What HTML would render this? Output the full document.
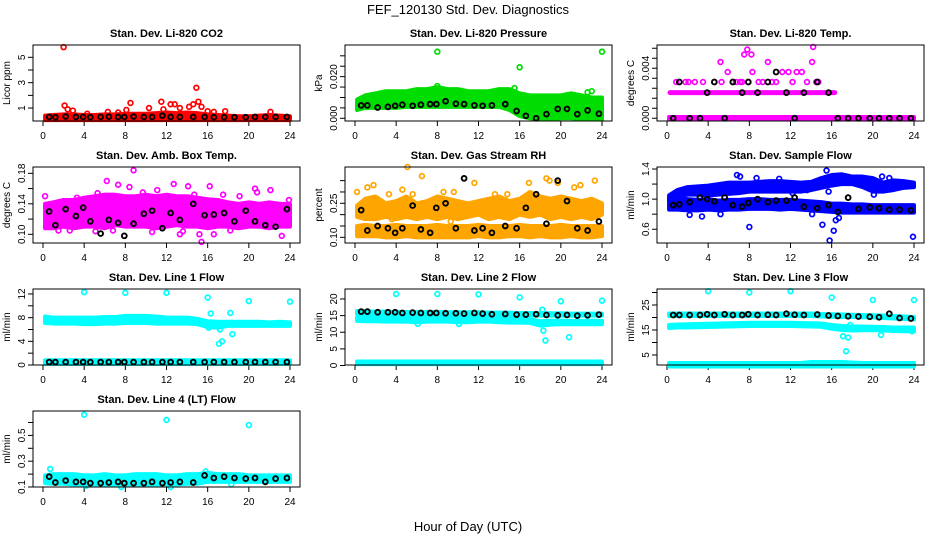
<!DOCTYPE html>
<html><head><meta charset="utf-8"><style>
html,body{margin:0;padding:0;background:#fff;}
svg{display:block;font-family:"Liberation Sans",sans-serif;}
</style></head><body>
<svg id="chart" width="936" height="540" viewBox="0 0 936 540" xmlns="http://www.w3.org/2000/svg">
<rect width="936" height="540" fill="#fff"/>
<text x="468" y="14" text-anchor="middle" font-size="13">FEF_120130  Std. Dev. Diagnostics</text>
<text x="468" y="531" text-anchor="middle" font-size="13">Hour of Day (UTC)</text>
</svg>
<script>
// ---------- data ----------
const HOURS = [0,1,2,3,4,5,6,7,8,9,10,11,12,13,14,15,16,17,18,19,20,21,22,23,24];
const X_TICKS = [0,4,8,12,16,20,24];
const BLK_X = [0.6,1.2,2.2,3.2,3.9,4.6,5.6,6.4,7.3,7.9,8.8,9.8,10.6,11.6,12.4,13.3,14.6,15.7,16.6,17.6,18.6,19.7,20.6,21.6,22.6,23.7];

// CO2
const co2Lo = [0.05,0.05,0.05,0.05,0.05,0.05,0.05,0.05,0.05,0.05,0.05,0.05,0.05,0.05,0.05,0.05,0.05,0.05,0.05,0.05,0.05,0.05,0.05,0.05,0.05];
const co2Hi = [0.4,0.45,0.5,0.5,0.45,0.45,0.5,0.5,0.55,0.55,0.55,0.6,0.65,0.6,0.65,0.6,0.5,0.45,0.4,0.35,0.35,0.4,0.45,0.4,0.35];
const co2PtX = [2,2.1,2.4,2.9,4.3,6.3,7.3,8.1,8.5,10.3,11.5,11.7,12.4,12.8,13.3,14.2,14.6,14.9,15.1,15.4,16,16.6,17.7,22.1];
const co2PtY = [5.8,1.2,0.9,0.8,0.55,0.7,0.65,0.85,1.4,1.0,1.5,0.9,1.3,1.3,1.0,1.1,1.3,2.6,1.5,1.1,0.75,0.7,0.75,0.7];
const co2Blk = [0.3,0.28,0.33,0.3,0.3,0.28,0.3,0.32,0.3,0.3,0.33,0.3,0.3,0.4,0.3,0.3,0.3,0.3,0.28,0.28,0.28,0.28,0.3,0.3,0.3,0.3];
const co2Ticks = [1,2,3,4,5], co2Labels = ["1","","3","","5"];

// Pressure
const prLo = [0.004,0.005,0.005,0.005,0.005,0.0055,0.0055,0.0055,0.0055,0.0055,0.0055,0.0055,0.0055,0.0055,0.0055,0.004,0.001,0.0,-0.0005,-0.0005,0.0,0.0,-0.0005,-0.0005,-0.0005];
const prHi = [0.009,0.011,0.012,0.013,0.013,0.013,0.014,0.014,0.015,0.014,0.014,0.013,0.013,0.013,0.014,0.014,0.012,0.011,0.011,0.011,0.011,0.012,0.011,0.010,0.010];
const prPtX = [8,24,16,8,15.5,17.1,18.3,21.2,22.6,23];
const prPtY = [0.032,0.032,0.0245,0.0155,0.0145,0.0045,0.0015,0.0015,0.0125,0.013];
const prBlk = [0.0062,0.0062,0.0052,0.0055,0.006,0.0065,0.006,0.0065,0.0068,0.0068,0.0082,0.007,0.0068,0.0062,0.006,0.0062,0.0068,0.0035,0.0012,0.0,0.002,0.0045,0.0045,0.002,0.0038,0.0022];
const prTicks = [0,0.005,0.01,0.015,0.02,0.025,0.03], prLabels = ["0.000","","","","0.020","",""];

// Li-820 Temp
const tpLo = [-0.0001,-0.0001,-0.0001,-0.0001,-0.0001,-0.0001,-0.0001,-0.0001,-0.0001,-0.0001,-0.0001,-0.0001,-0.0001,-0.0001,-0.0001,-0.0001,-0.0001,-0.0001,-0.0001,-0.0001,-0.0001,-0.0001,-0.0001,-0.0001,-0.0001];
const tpHi = [0.0001,0.0001,0.0001,0.0001,0.0001,0.0001,0.0001,0.0001,0.0001,0.0001,0.0001,0.0001,0.0001,0.0001,0.0001,0.0001,0.0001,0.0001,0.0001,0.0001,0.0001,0.0001,0.0001,0.0001,0.0001];
const tpLevelY = [0.00205];
const tpLevelX0 = [0.3];
const tpLevelX1 = [16.3];
const tpPtX = [0.9,1.8,2.1,2.7,3.5,4.6,5.2,5.3,5.9,6.4,7.1,7.3,7.5,7.8,8.2,8.3,8.9,9.3,9.8,10.6,11.2,11.8,12.6,13.1,13.6,14.1,14.2,14.5,14.7,7.9,10.2,12.2,6.7];
const tpPtY = [0.0029,0.0029,0.0029,0.0029,0.0029,0.0029,0.0045,0.0029,0.0037,0.0029,0.0029,0.0029,0.0051,0.0055,0.0051,0.0037,0.0029,0.0029,0.0045,0.0029,0.0037,0.0037,0.0037,0.0037,0.0029,0.0045,0.0057,0.0029,0.0029,0.0029,0.0029,0.0029,0.0029];
const tpBlk = [0,0.0029,0,0,0.00205,0.0029,0,0.0029,0.00205,0.0029,0.00205,0.0029,0.0037,0.00205,0,0.00205,0.0029,0.00205,0,0,0,0,0,0,0,0];
const tpTicks = [0,0.0008,0.0016,0.0024,0.0032,0.004,0.0048,0.0056], tpLabels = ["0.000","","","","","0.004","",""];

// Amb box temp
const abLo = [0.108,0.108,0.11,0.108,0.11,0.11,0.108,0.112,0.11,0.11,0.11,0.108,0.11,0.112,0.11,0.11,0.108,0.11,0.11,0.108,0.11,0.11,0.108,0.11,0.11];
const abHi = [0.14,0.142,0.145,0.145,0.148,0.15,0.152,0.152,0.15,0.15,0.152,0.15,0.152,0.15,0.15,0.148,0.146,0.145,0.142,0.14,0.142,0.14,0.142,0.14,0.14];
const abPtX = [0.2,0.3,1.5,2.6,3.3,5.1,6.2,6.8,7.3,8.4,8.8,9.7,11.1,12.7,13.3,14.1,14.7,15.2,15.4,16.2,16.6,17.5,19.1,20.6,20.8,22.1,23.2,23.9,5.3,10.6,13.6,18.2];
const abPtY = [0.15,0.11,0.105,0.105,0.148,0.104,0.17,0.105,0.165,0.162,0.184,0.155,0.158,0.166,0.1,0.163,0.152,0.1,0.09,0.163,0.1,0.152,0.15,0.16,0.155,0.158,0.098,0.145,0.154,0.103,0.104,0.105];
const abBlk = [0.13,0.112,0.133,0.124,0.135,0.117,0.101,0.119,0.115,0.098,0.114,0.127,0.131,0.108,0.128,0.119,0.14,0.125,0.126,0.128,0.117,0.131,0.117,0.112,0.11,0.133];
const abTicks = [0.10,0.12,0.14,0.16,0.18], abLabels = ["0.10","","0.14","","0.18"];

// Gas stream RH
const rhLo = [0.105,0.105,0.105,0.1,0.1,0.105,0.1,0.1,0.1,0.1,0.1,0.1,0.105,0.1,0.1,0.105,0.105,0.1,0.105,0.1,0.1,0.105,0.1,0.1,0.105];
const rhHi = [0.15,0.155,0.15,0.15,0.155,0.15,0.15,0.15,0.155,0.15,0.15,0.15,0.155,0.15,0.15,0.15,0.155,0.15,0.15,0.15,0.155,0.15,0.15,0.15,0.15];
const rh2Lo = [0.19,0.18,0.18,0.19,0.18,0.19,0.18,0.19,0.18,0.19,0.18,0.19,0.2,0.18,0.19,0.18,0.2,0.19,0.2,0.18,0.19,0.18,0.19,0.18,0.2];
const rh2Hi = [0.24,0.27,0.28,0.25,0.26,0.28,0.25,0.26,0.28,0.27,0.26,0.25,0.26,0.27,0.28,0.26,0.27,0.3,0.28,0.27,0.28,0.27,0.26,0.27,0.25];
const rhPtX = [0.2,1.2,1.8,3.3,4.6,5.1,5.6,6.5,7.2,7.8,8.6,9.6,10.4,11.6,12.6,13.6,14.8,15.6,16.9,18.6,18.9,19.7,21.3,21.9,22.4,23.3,23.9,3.6,9.3,12.9];
const rhPtY = [0.3,0.32,0.33,0.29,0.31,0.41,0.29,0.37,0.23,0.13,0.3,0.3,0.14,0.34,0.21,0.29,0.29,0.26,0.34,0.36,0.35,0.34,0.32,0.33,0.24,0.35,0.24,0.18,0.17,0.13];
const rhBlk = [0.22,0.13,0.15,0.14,0.12,0.14,0.24,0.135,0.12,0.23,0.25,0.14,0.36,0.13,0.14,0.12,0.15,0.14,0.23,0.29,0.16,0.35,0.26,0.14,0.13,0.17];
const rhTicks = [0.10,0.15,0.20,0.25,0.30,0.35], rhLabels = ["0.10","","","0.25","",""];

// Sample flow
const sfLo = [0.86,0.86,0.85,0.85,0.86,0.85,0.86,0.86,0.87,0.87,0.87,0.86,0.87,0.86,0.85,0.84,0.83,0.82,0.82,0.82,0.82,0.82,0.82,0.82,0.82];
const sfHi = [1.0,1.02,1.0,0.99,1.0,0.98,0.99,0.99,1.0,1.0,0.99,0.99,0.99,0.98,0.97,0.96,0.94,0.94,0.93,0.93,0.92,0.92,0.92,0.92,0.92];
const sf2Lo = [0.98,1.04,1.06,1.06,1.05,1.06,1.07,1.08,1.1,1.1,1.1,1.1,1.1,1.1,1.12,1.15,1.18,1.2,1.2,1.16,1.1,1.1,1.12,1.15,1.16];
const sf2Hi = [1.05,1.12,1.16,1.17,1.18,1.2,1.22,1.22,1.22,1.23,1.24,1.24,1.23,1.22,1.23,1.28,1.32,1.33,1.3,1.3,1.28,1.22,1.25,1.24,1.22];
const sfPtX = [2.2,3.4,5.2,6.8,7.1,8.0,8.7,10.9,13.6,15.1,15.5,15.8,16.2,16.4,16.7,15.7,20.1,20.9,21.6,23.9,14.1,12.2];
const sfPtY = [0.79,0.77,0.8,1.32,1.3,0.63,1.28,1.27,1.12,0.66,1.38,0.45,0.58,0.72,0.75,1.1,1.06,1.3,1.28,0.5,0.8,1.08];
const sfBlk = [0.92,0.93,0.96,1.02,1.0,0.97,1.02,0.92,0.9,0.95,1.0,0.96,0.98,0.98,1.02,0.9,0.88,0.92,0.83,1.02,0.87,0.89,0.88,0.86,0.86,0.85];
const sfTicks = [0.6,0.8,1.0,1.2,1.4], sfLabels = ["0.6","","1.0","","1.4"];

// Line 1 flow
const l1Lo = [7.1,7.0,7.0,7.0,6.9,6.9,7.0,7.0,7.1,7.1,7.1,7.0,7.0,7.0,7.0,6.9,6.4,6.3,6.6,6.6,6.6,6.6,6.6,6.6,6.6];
const l1Hi = [8.2,8.0,8.0,8.0,8.0,8.0,8.1,8.1,8.3,8.3,8.3,8.2,8.0,8.0,8.0,7.8,7.4,7.3,7.3,7.3,7.3,7.3,7.2,7.3,7.2];
const l1bLo = [0.2,0.2,0.2,0.2,0.2,0.2,0.2,0.2,0.2,0.2,0.2,0.2,0.2,0.2,0.2,0.2,0.2,0.2,0.2,0.2,0.2,0.2,0.2,0.2,0.2];
const l1bHi = [0.8,0.8,0.8,0.8,0.8,0.8,0.8,0.8,0.8,0.8,0.8,0.8,0.8,0.8,0.8,0.8,0.8,0.8,0.8,0.8,0.8,0.8,0.8,0.8,0.8];
const l1PtX = [4,8,12,16,16.3,17.1,17.4,18.2,18.4,20,24,16.1,17.2];
const l1PtY = [12.3,12.2,12.2,11.4,8.7,3.6,4.0,8.8,5.2,10.8,10.7,6.3,6.0];
const l1Blk = [0.5,0.5,0.5,0.5,0.5,0.5,0.5,0.5,0.5,0.5,0.5,0.5,0.5,0.5,0.5,0.5,0.5,0.5,0.5,0.5,0.5,0.5,0.5,0.5,0.5,0.5];
const l1Ticks = [0,2,4,6,8,10,12], l1Labels = ["0","","4","","8","","12"];

// Line 2 flow
const l2aLo = [15.4,15.4,15.4,15.3,15.3,15.3,15.3,15.3,15.3,15.3,15.3,15.3,15.3,15.2,15.2,15.2,15.1,15.1,15.0,15.0,15.0,15.0,15.0,15.0,15.0];
const l2aHi = [16.4,16.3,16.2,16.2,16.1,16.1,16.1,16.1,16.1,16.0,16.0,16.0,16.0,15.9,15.9,15.9,15.8,15.8,15.7,15.7,15.7,15.6,15.6,15.6,15.6];
const l2bLo = [13.4,13.3,13.3,13.2,13.2,13.2,13.0,13.2,13.2,13.2,13.0,13.0,13.2,13.2,13.0,12.9,12.9,12.8,12.0,12.3,12.4,12.4,12.4,12.4,12.4];
const l2bHi = [14.4,14.3,14.3,14.2,14.2,14.2,14.2,14.3,14.4,14.3,14.2,14.3,14.4,14.2,14.1,14.0,14.0,13.9,13.3,13.5,13.5,13.4,13.4,13.5,13.4];
const l2cLo = [0.4,0.4,0.4,0.4,0.4,0.4,0.4,0.4,0.4,0.4,0.4,0.4,0.4,0.4,0.4,0.4,0.4,0.4,0.4,0.4,0.4,0.4,0.4,0.4,0.4];
const l2cHi = [1.2,1.2,1.2,1.2,1.2,1.2,1.2,1.2,1.2,1.2,1.2,1.2,1.2,1.2,1.2,1.2,1.2,1.2,1.2,1.2,1.2,1.2,1.2,1.2,1.2];
const l2PtX = [4,8,12,16,18.3,18.5,20,20.8,24,18.2,6.1,10.1];
const l2PtY = [21.5,21.5,21.4,20.5,10.5,7.5,19.3,8.5,19.5,16.8,12.5,12.5];
const l2Blk = [16.2,16.2,16,16,16,15.8,15.9,15.8,15.8,15.8,15.7,15.7,15.6,15.8,15.6,15.4,15.5,15.3,15.3,15.4,15.2,15.1,15.2,15,15.1,15.3];
const l2Ticks = [0,5,10,15,20], l2Labels = ["0","5","10","15","20"];

// Line 3 flow
const l3aLo = [20.6,20.6,20.6,20.6,20.6,20.6,20.6,20.6,20.6,20.6,20.6,20.6,20.6,20.6,20.6,20.4,20.3,20.2,20.2,20.1,20.0,19.8,19.6,19.4,19.2];
const l3aHi = [21.6,21.6,21.6,21.6,21.6,21.6,21.6,21.6,21.6,21.6,21.6,21.6,21.6,21.6,21.6,21.4,21.3,21.2,21.1,21.0,20.9,20.8,20.6,20.4,20.2];
const l3bLo = [15.8,16.0,16.0,16.1,16.2,16.3,16.4,16.5,16.6,16.6,16.6,16.6,16.6,16.5,16.4,16.3,15.5,15.0,14.8,14.9,14.9,14.8,14.6,14.5,14.5];
const l3bHi = [17.0,17.2,17.3,17.4,17.5,17.6,17.7,17.8,17.9,17.9,17.9,17.9,17.9,17.8,17.7,17.6,17.0,16.6,16.4,16.4,16.3,16.2,16.0,16.0,16.0];
const l3cLo = [0.4,0.4,0.4,0.4,0.4,0.4,0.4,0.4,0.4,0.4,0.4,0.4,0.4,0.4,0.4,0.4,0.4,0.4,0.4,0.4,0.4,0.4,0.4,0.4,0.4];
const l3cHi = [1.8,1.8,1.8,1.8,1.8,1.8,1.8,1.8,1.8,1.8,1.8,1.8,1.8,1.8,2.2,2.2,2.2,2.2,2.0,1.8,1.8,1.8,1.8,1.8,1.8];
const l3PtX = [4,8,12,16,17.4,17.6,17.1,20,20.8,24,23.8,17.8];
const l3PtY = [30.5,30.0,30.5,28.0,6.5,12.0,12.5,27.0,13.0,27.0,14.5,17.0];
const l3Blk = [21,21,21,21,21.3,21,21.3,21,21,21.3,21,21.1,21,21.5,21.1,21,21.2,20.8,20.6,20.5,20.4,20.3,20.1,21.5,19.8,19.6];
const l3Ticks = [5,10,15,20,25,30], l3Labels = ["5","","15","","25",""];

// Line 4 flow
const l4Lo = [0.13,0.125,0.125,0.12,0.12,0.12,0.12,0.12,0.12,0.12,0.12,0.12,0.12,0.12,0.125,0.125,0.14,0.14,0.14,0.14,0.14,0.14,0.14,0.14,0.14];
const l4Hi = [0.19,0.2,0.2,0.2,0.19,0.19,0.2,0.19,0.19,0.2,0.2,0.2,0.19,0.19,0.2,0.2,0.21,0.2,0.2,0.2,0.19,0.19,0.19,0.19,0.19];
const l4PtX = [4,12,20,0.7,4.2,7.6,12.4,15.8,18.3];
const l4PtY = [0.66,0.62,0.58,0.24,0.11,0.1,0.1,0.22,0.12];
const l4Blk = [0.18,0.135,0.15,0.14,0.14,0.13,0.13,0.135,0.14,0.13,0.13,0.13,0.14,0.13,0.135,0.14,0.135,0.19,0.17,0.18,0.17,0.165,0.17,0.14,0.165,0.17];
const l4Ticks = [0.1,0.2,0.3,0.4,0.5,0.6], l4Labels = ["0.1","","0.3","","0.5",""];

// ---------- drawing ----------
const NS = "http://www.w3.org/2000/svg";
const svg = document.getElementById('chart');
function mk(tag, attrs, parent){
  const e = document.createElementNS(NS, tag);
  for (const k in attrs) e.setAttribute(k, attrs[k]);
  (parent||svg).appendChild(e);
  return e;
}
function scale(d0,d1,r0,r1){ return v => r0 + (v-d0)/(d1-d0)*(r1-r0); }

function panel(o){
  const g = mk('g', {});
  
  
  const L=o.left, T=o.top, R=L+267, B=T+76;
  const x = scale(0,24,L+10,L+257);
  const y = scale(o.ymin,o.ymax,B,T);
  const t = mk('text', {x:(L+R)/2, y:T-8, 'text-anchor':'middle','font-size':'11','font-weight':'bold'}, g);
  t.textContent = o.title;
  
  
  const yt = mk('text', {x:0,y:0,'text-anchor':'middle','font-size':'10',transform:`translate(${L-23},${(T+B)/2}) rotate(-90)`}, g);
  yt.textContent = o.ylab;
  
  
  mk('line',{x1:x(0),x2:x(24),y1:B,y2:B,stroke:'#000','stroke-width':1},g);
  X_TICKS.forEach(v=>{
    mk('line',{x1:x(v),x2:x(v),y1:B,y2:B+5,stroke:'#000'},g);
    const tl = mk('text',{x:x(v),y:B+18,'text-anchor':'middle','font-size':'10'},g);
    tl.textContent = v;
    
    
  });
  o.ticks.forEach((v,i)=>{
    mk('line',{x1:L-5,x2:L,y1:y(v),y2:y(v),stroke:'#000'},g);
    if (o.labels[i]){
      const tl = mk('text',{x:0,y:0,'text-anchor':'middle','font-size':'10',transform:`translate(${L-8},${y(v)}) rotate(-90)`},g);
      tl.textContent = o.labels[i];
      
      
    }
  });
  (o.bands||[]).forEach(b=>{
    let pts = [];
    HOURS.forEach((h,i)=>pts.push(x(Math.max(h,0.2))+','+y(b.hi[i])));
    for (let i=HOURS.length-1;i>=0;i--) pts.push(x(Math.max(HOURS[i],0.2))+','+y(b.lo[i]));
    const p = mk('polygon',{points:pts.join(' '),fill:o.color,stroke:o.color,'stroke-width':4,'stroke-linejoin':'round'},g);
    
    
  });
  if (o.levels){
    o.levels.y.forEach((lv,i)=>{
      const ln = mk('line',{x1:x(o.levels.x0[i]),x2:x(o.levels.x1[i]),y1:y(lv),y2:y(lv),stroke:o.color,'stroke-width':5,'stroke-linecap':'round'},g);
      
      
    });
  }
  (o.pts||[]).forEach(s=>{
    s.x.forEach((xv,i)=>{
      const c = mk('circle',{cx:x(xv),cy:y(s.y[i]),r:2.4,fill:'none',stroke:o.color,'stroke-width':1.7},g);
      
      
    });
  });
  BLK_X.forEach((xv,i)=>{
    const c = mk('circle',{cx:x(xv),cy:y(o.blk[i]),r:2.4,fill:'none',stroke:'#000','stroke-width':1.9},g);
    
    
  });
  const box = mk('rect',{x:L,y:T,width:267,height:76,fill:'none',stroke:'#000','stroke-width':1},g);
  
  
}

const C1=33, C2=345, C3=657, R1=45, R2=167, R3=289, R4=411;
panel({name:'panel-co2',title:'Stan. Dev. Li-820 CO2',ylab:'Licor ppm',left:C1,top:R1,ymin:-0.02,ymax:5.97,color:'#ff0000',ticks:co2Ticks,labels:co2Labels,bands:[{lo:co2Lo,hi:co2Hi}],pts:[{x:co2PtX,y:co2PtY}],blk:co2Blk});
panel({name:'panel-pressure',title:'Stan. Dev. Li-820 Pressure',ylab:'kPa',left:C2,top:R1,ymin:-0.0013,ymax:0.0352,color:'#00dd00',ticks:prTicks,labels:prLabels,bands:[{lo:prLo,hi:prHi}],pts:[{x:prPtX,y:prPtY}],blk:prBlk});
panel({name:'panel-li820-temp',title:'Stan. Dev. Li-820 Temp.',ylab:'degrees C',left:C3,top:R1,ymin:-0.00022,ymax:0.00586,color:'#ff00ff',ticks:tpTicks,labels:tpLabels,bands:[{lo:tpLo,hi:tpHi}],levels:{y:tpLevelY,x0:tpLevelX0,x1:tpLevelX1},pts:[{x:tpPtX,y:tpPtY}],blk:tpBlk});
panel({name:'panel-amb-box-temp',title:'Stan. Dev. Amb. Box Temp.',ylab:'degrees C',left:C1,top:R2,ymin:0.0886,ymax:0.1883,color:'#ff00ff',ticks:abTicks,labels:abLabels,bands:[{lo:abLo,hi:abHi}],pts:[{x:abPtX,y:abPtY}],blk:abBlk});
panel({name:'panel-gas-stream-rh',title:'Stan. Dev. Gas Stream RH',ylab:'percent',left:C2,top:R2,ymin:0.075,ymax:0.41,color:'#ffa500',ticks:rhTicks,labels:rhLabels,bands:[{lo:rhLo,hi:rhHi},{lo:rh2Lo,hi:rh2Hi}],pts:[{x:rhPtX,y:rhPtY}],blk:rhBlk});
panel({name:'panel-sample-flow',title:'Stan. Dev. Sample Flow',ylab:'ml/min',left:C3,top:R2,ymin:0.417,ymax:1.427,color:'#0000ff',ticks:sfTicks,labels:sfLabels,bands:[{lo:sfLo,hi:sfHi},{lo:sf2Lo,hi:sf2Hi}],pts:[{x:sfPtX,y:sfPtY}],blk:sfBlk});
panel({name:'panel-line1-flow',title:'Stan. Dev. Line 1 Flow',ylab:'ml/min',left:C1,top:R3,ymin:0,ymax:12.84,color:'#00ffff',ticks:l1Ticks,labels:l1Labels,bands:[{lo:l1Lo,hi:l1Hi},{lo:l1bLo,hi:l1bHi}],pts:[{x:l1PtX,y:l1PtY}],blk:l1Blk});
panel({name:'panel-line2-flow',title:'Stan. Dev. Line 2 Flow',ylab:'ml/min',left:C2,top:R3,ymin:0.15,ymax:23.0,color:'#00ffff',ticks:l2Ticks,labels:l2Labels,bands:[{lo:l2aLo,hi:l2aHi},{lo:l2bLo,hi:l2bHi},{lo:l2cLo,hi:l2cHi}],pts:[{x:l2PtX,y:l2PtY}],blk:l2Blk});
panel({name:'panel-line3-flow',title:'Stan. Dev. Line 3 Flow',ylab:'ml/min',left:C3,top:R3,ymin:1.0,ymax:31.4,color:'#00ffff',ticks:l3Ticks,labels:l3Labels,bands:[{lo:l3aLo,hi:l3aHi},{lo:l3bLo,hi:l3bHi},{lo:l3cLo,hi:l3cHi}],pts:[{x:l3PtX,y:l3PtY}],blk:l3Blk});
panel({name:'panel-line4-flow',title:'Stan. Dev. Line 4 (LT) Flow',ylab:'ml/min',left:C1,top:R4,ymin:0.1,ymax:0.689,color:'#00ffff',ticks:l4Ticks,labels:l4Labels,bands:[{lo:l4Lo,hi:l4Hi}],pts:[{x:l4PtX,y:l4PtY}],blk:l4Blk});
</script>
</body></html>
